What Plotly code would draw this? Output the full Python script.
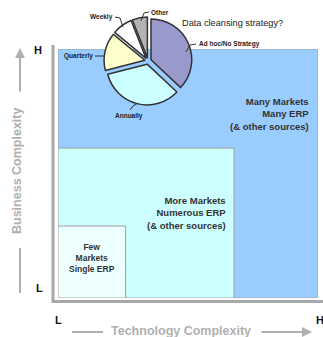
import plotly.graph_objects as go

W, H = 323, 337

# ---- data ----
categories = ["Ad hoc/No Strategy", "Annually", "Quarterly", "Weekly", "Other"]
shares = [37, 34, 15, 8, 6]
slice_colors = ["#9999CC", "#CCFFFF", "#FFFFCC", "#FFFFFF", "#B3B3B3"]

tier_labels = ["Many Markets<br>Many ERP<br>(& other sources)",
               "More Markets<br>Numerous ERP<br>(& other sources)",
               "Few<br>Markets<br>Single ERP"]
tier_tech = [1.0, 0.677, 0.26]        # technology complexity extent
tier_business = [1.0, 0.602, 0.289]   # business complexity extent
tier_colors = ["#99CCFF", "#CCFFFF", "#EEFFFF"]

def px(x):
    return x / W

def py(y):
    return 1 - y / H

FONT = "Arial, Liberation Sans, sans-serif"
fig = go.Figure()

# pie
pc_x, pc_y, pr = 148, 61, 44
fig.add_trace(go.Pie(
    labels=categories, values=shares, sort=False, direction="clockwise", rotation=0,
    marker=dict(colors=slice_colors, line=dict(color="#333333", width=1.5)),
    pull=[0.08] * len(shares), textinfo="none", hoverinfo="label+percent",
    domain=dict(x=[px(pc_x - pr), px(pc_x + pr)], y=[py(pc_y + pr), py(pc_y - pr)]),
    showlegend=False,
))

shapes = []
# grey L frame
shapes.append(dict(type="line", xref="paper", yref="paper", x0=px(53), x1=px(53), y0=py(45), y1=py(303),
                   line=dict(color="#A8A8A8", width=3)))
shapes.append(dict(type="line", xref="paper", yref="paper", x0=px(52), x1=px(323), y0=py(301.5), y1=py(301.5),
                   line=dict(color="#A8A8A8", width=3)))
# tiers
for t, b, c in zip(tier_tech, tier_business, tier_colors):
    shapes.append(dict(type="rect", xref="x", yref="y", x0=0, x1=t, y0=0, y1=b, fillcolor=c,
                       line=dict(color="#A0A0A0", width=1), layer="below"))

# leader lines
def leader(pts):
    d = "M " + " L ".join(f"{px(x)},{py(y)}" for x, y in pts)
    return dict(type="path", xref="paper", yref="paper", path=d, line=dict(color="#333333", width=1))

shapes += [
    leader([(186, 52), (190, 45), (196, 44)]),
    leader([(130, 110), (133, 106), (138, 103)]),
    leader([(95, 56), (104, 56)]),
    leader([(115, 17), (120, 18), (123, 27)]),
    leader([(149, 12), (144, 13), (141, 21)]),
]

# axis arrows
shapes += [
    dict(type="line", xref="paper", yref="paper", x0=px(72), x1=px(103), y0=py(332), y1=py(332),
         line=dict(color="#B0B0B0", width=2)),
    dict(type="line", xref="paper", yref="paper", x0=px(20), x1=px(20), y0=py(248), y1=py(293),
         line=dict(color="#B0B0B0", width=2)),
]

annotations = []
# arrows with heads
annotations.append(dict(xref="paper", yref="paper", x=px(312), y=py(332), ax=-52, ay=0,
                        axref="pixel", ayref="pixel", text="", showarrow=True, arrowhead=2,
                        arrowsize=1, arrowwidth=2, arrowcolor="#B0B0B0"))
annotations.append(dict(xref="paper", yref="paper", x=px(20), y=py(48), ax=0, ay=45,
                        axref="pixel", ayref="pixel", text="", showarrow=True, arrowhead=2,
                        arrowsize=1, arrowwidth=2, arrowcolor="#B0B0B0"))

def txt(x, y, s, size, color="#333333", bold=True, xanchor="center", align="center", angle=0):
    annotations.append(dict(xref="paper", yref="paper", x=px(x), y=py(y), text=f"<b>{s}</b>" if bold else s,
                            showarrow=False, xanchor=xanchor, yanchor="middle", align=align, textangle=angle,
                            font=dict(family=FONT, size=size, color=color)))

# axis texts
txt(181, 331, "Technology Complexity", 12.5, color="#B0B0B0")
txt(17, 171, "Business Complexity", 12.5, color="#B0B0B0", angle=-90)
txt(38, 50, "H", 11, color="#111111")
txt(39, 288, "L", 11, color="#111111")
txt(58, 320, "L", 11, color="#111111")
txt(320, 320, "H", 11, color="#111111")

# tier texts
txt(311, 114, tier_labels[0], 9.5, xanchor="right", align="right")
txt(228, 213, tier_labels[1], 9.5, xanchor="right", align="right")
txt(92, 258, tier_labels[2], 8.5)

# pie texts
txt(180, 23, "Data cleansing strategy?", 9.2, color="#222222", bold=False, xanchor="left")
txt(197, 44, categories[0], 6.5, color="#222222", xanchor="left")
txt(129, 116, categories[1], 6.5, color="#222222")
txt(95, 56, categories[2], 6.5, color="#222222", xanchor="right")
txt(115, 17, categories[3], 6.5, color="#222222", xanchor="right")
txt(149, 12, categories[4], 6.5, color="#222222", xanchor="left")

fig.update_layout(
    width=W, height=H, margin=dict(l=0, r=0, t=0, b=0),
    paper_bgcolor="white", plot_bgcolor="rgba(0,0,0,0)",
    xaxis=dict(domain=[px(58), px(318)], range=[0, 1], visible=False, fixedrange=True),
    yaxis=dict(domain=[py(298), py(49)], range=[0, 1], visible=False, fixedrange=True),
    shapes=shapes, annotations=annotations, font=dict(family=FONT),
)

fig.write_html("out.html")
